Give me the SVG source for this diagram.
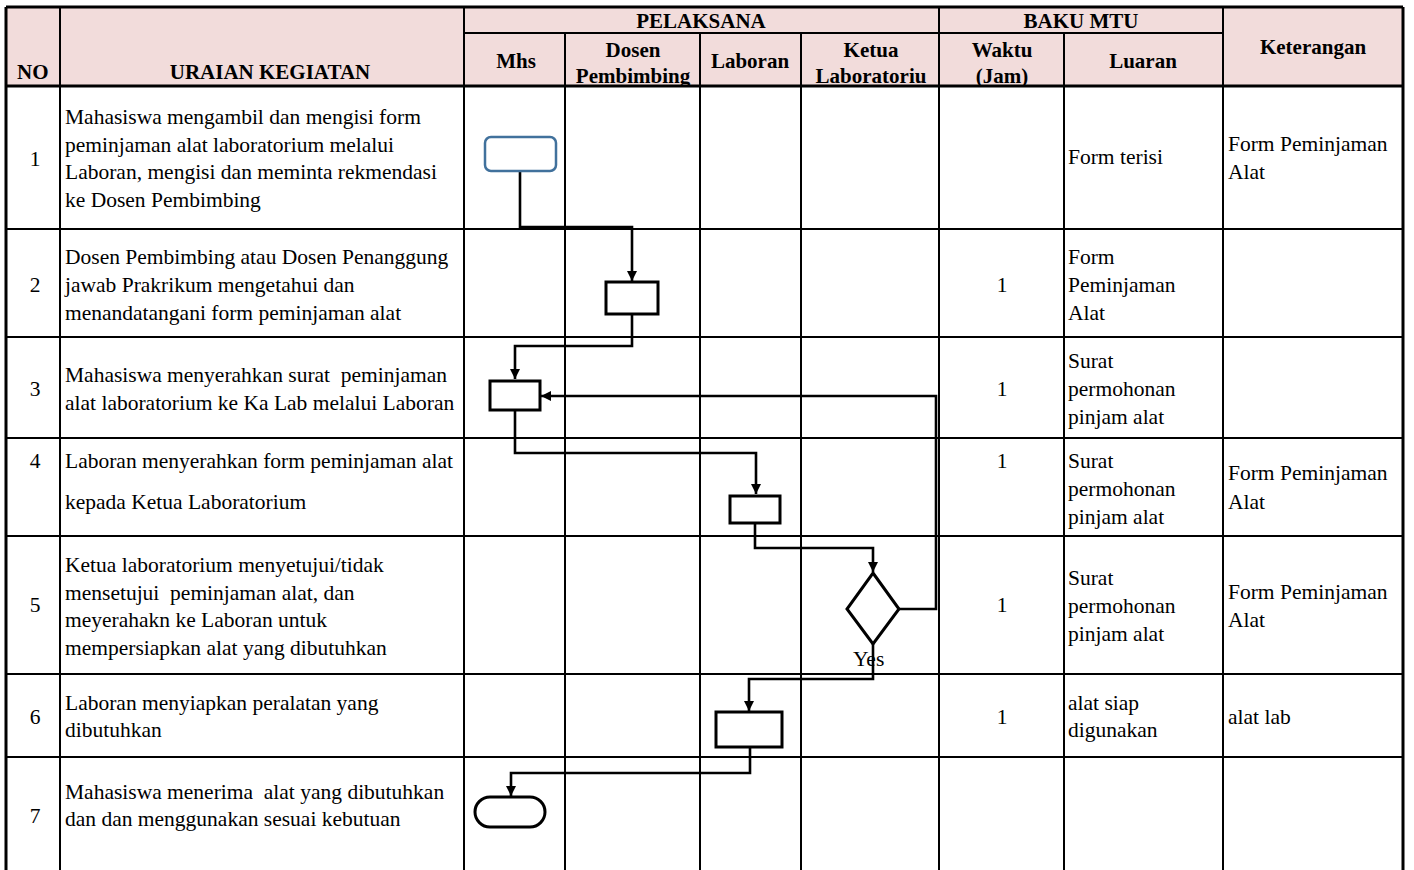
<svg xmlns="http://www.w3.org/2000/svg" width="1414" height="870" viewBox="0 0 1414 870">
<defs>
<style>
.t{font-family:"Liberation Serif","Times New Roman",serif;font-size:21.5px;fill:#000}
.h{font-family:"Liberation Serif","Times New Roman",serif;font-size:21px;font-weight:bold;fill:#000}
.c{text-anchor:middle}
.g{stroke:#000;stroke-width:2;fill:none}
.gb{stroke:#000;stroke-width:3;fill:none}
.n{fill:#fff;stroke:#000;stroke-width:3}
.e{fill:none;stroke:#000;stroke-width:2.6;stroke-linejoin:miter}
</style>
<marker id="ar" viewBox="0 0 10 10" refX="10" refY="5" markerWidth="10" markerHeight="10" markerUnits="userSpaceOnUse" orient="auto">
<path d="M0,0 L10,5 L0,10 z" fill="#000"/>
</marker>
</defs>
<rect width="1414" height="870" fill="#fff"/>
<!-- header -->
<g id="header">
<rect x="6" y="7" width="1397" height="79" fill="#F2DCDB"/>
<text class="h c" x="701" y="28">PELAKSANA</text>
<text class="h c" x="1081" y="28">BAKU MTU</text>
<text class="h" x="17" y="79">NO</text>
<text class="h c" x="270" y="79">URAIAN KEGIATAN</text>
<text class="h c" x="516" y="68">Mhs</text>
<text class="h c" x="633" y="57">Dosen</text>
<text class="h c" x="633" y="83">Pembimbing</text>
<text class="h c" x="750" y="68">Laboran</text>
<text class="h c" x="871" y="57">Ketua</text>
<text class="h c" x="871" y="83">Laboratoriu</text>
<text class="h c" x="1002" y="57">Waktu</text>
<text class="h c" x="1002" y="83">(Jam)</text>
<text class="h c" x="1143" y="68">Luaran</text>
<text class="h c" x="1313" y="54">Keterangan</text>
</g>
<rect x="6" y="86" width="1397" height="784" fill="#fff"/>
<!-- grid -->
<g id="grid">
<path class="gb" d="M6,7 H1403 M6,86 H1403"/>
<path class="g" d="M464,33 H1223 M6,229 H1403 M6,337 H1403 M6,438 H1403 M6,536 H1403 M6,674 H1403 M6,757 H1403"/>
<path class="gb" d="M6,7 V870 M1403,7 V870"/>
<path class="g" d="M60,7 V870 M464,7 V870 M939,7 V870 M1223,7 V870 M565,33 V870 M700,33 V870 M801,33 V870 M1064,33 V870"/>
</g>
<!-- rows text -->
<g id="row1">
<text class="t c" x="35" y="166">1</text>
<text class="t" x="65" y="124">Mahasiswa mengambil dan mengisi form</text>
<text class="t" x="65" y="152">peminjaman alat laboratorium melalui</text>
<text class="t" x="65" y="179">Laboran, mengisi dan meminta rekmendasi</text>
<text class="t" x="65" y="207">ke Dosen Pembimbing</text>
<text class="t" x="1068" y="164">Form terisi</text>
<text class="t" x="1228" y="151">Form Peminjaman</text>
<text class="t" x="1228" y="179">Alat</text>
</g>
<g id="row2">
<text class="t c" x="35" y="292">2</text>
<text class="t" x="65" y="264">Dosen Pembimbing atau Dosen Penanggung</text>
<text class="t" x="65" y="292">jawab Prakrikum mengetahui dan</text>
<text class="t" x="65" y="320">menandatangani form peminjaman alat</text>
<text class="t c" x="1002" y="292">1</text>
<text class="t" x="1068" y="264">Form</text>
<text class="t" x="1068" y="292">Peminjaman</text>
<text class="t" x="1068" y="320">Alat</text>
</g>
<g id="row3">
<text class="t c" x="35" y="396">3</text>
<text class="t" x="65" y="382" xml:space="preserve">Mahasiswa menyerahkan surat  peminjaman</text>
<text class="t" x="65" y="410">alat laboratorium ke Ka Lab melalui Laboran</text>
<text class="t c" x="1002" y="396">1</text>
<text class="t" x="1068" y="368">Surat</text>
<text class="t" x="1068" y="396">permohonan</text>
<text class="t" x="1068" y="424">pinjam alat</text>
</g>
<g id="row4">
<text class="t c" x="35" y="468">4</text>
<text class="t" x="65" y="468">Laboran menyerahkan form peminjaman alat</text>
<text class="t" x="65" y="509">kepada Ketua Laboratorium</text>
<text class="t c" x="1002" y="468">1</text>
<text class="t" x="1068" y="468">Surat</text>
<text class="t" x="1068" y="496">permohonan</text>
<text class="t" x="1068" y="524">pinjam alat</text>
<text class="t" x="1228" y="480">Form Peminjaman</text>
<text class="t" x="1228" y="509">Alat</text>
</g>
<g id="row5">
<text class="t c" x="35" y="612">5</text>
<text class="t" x="65" y="572">Ketua laboratorium menyetujui/tidak</text>
<text class="t" x="65" y="600" xml:space="preserve">mensetujui  peminjaman alat, dan</text>
<text class="t" x="65" y="627">meyerahakn ke Laboran untuk</text>
<text class="t" x="65" y="655">mempersiapkan alat yang dibutuhkan</text>
<text class="t c" x="1002" y="612">1</text>
<text class="t" x="1068" y="585">Surat</text>
<text class="t" x="1068" y="613">permohonan</text>
<text class="t" x="1068" y="641">pinjam alat</text>
<text class="t" x="1228" y="599">Form Peminjaman</text>
<text class="t" x="1228" y="627">Alat</text>
</g>
<g id="row6">
<text class="t c" x="35" y="724">6</text>
<text class="t" x="65" y="710">Laboran menyiapkan peralatan yang</text>
<text class="t" x="65" y="737">dibutuhkan</text>
<text class="t c" x="1002" y="724">1</text>
<text class="t" x="1068" y="710">alat siap</text>
<text class="t" x="1068" y="737">digunakan</text>
<text class="t" x="1228" y="724">alat lab</text>
</g>
<g id="row7">
<text class="t c" x="35" y="823">7</text>
<text class="t" x="65" y="799" xml:space="preserve">Mahasiswa menerima  alat yang dibutuhkan</text>
<text class="t" x="65" y="826">dan dan menggunakan sesuai kebutuan</text>
</g>
<!-- connectors -->
<g id="connectors">
<path class="e" d="M520,171 V227 H632 V281" marker-end="url(#ar)"/>
<path class="e" d="M632,314 V346 H515 V379" marker-end="url(#ar)"/>
<path class="e" d="M515,410 V453 H756 V494" marker-end="url(#ar)"/>
<path class="e" d="M755,523 V548 H873 V572" marker-end="url(#ar)"/>
<path class="e" d="M899,609 H936 V396 H541" marker-end="url(#ar)"/>
<path class="e" d="M873,644 V679 H749 V711" marker-end="url(#ar)"/>
<path class="e" d="M750,747 V773 H511 V796" marker-end="url(#ar)"/>
</g>
<!-- nodes -->
<g id="start"><rect x="485" y="137" width="71" height="34" rx="6" fill="#fff" stroke="#41719C" stroke-width="2.5"/></g>
<g id="step2"><rect class="n" x="606" y="282" width="52" height="32"/></g>
<g id="step3"><rect class="n" x="490" y="381" width="50" height="29"/></g>
<g id="step4"><rect class="n" x="730" y="496" width="50" height="27"/></g>
<g id="decision5"><path class="n" d="M873,573 L899,609 L873,644 L847,609 Z" stroke-width="2.6"/></g>
<g id="step6"><rect class="n" x="716" y="712" width="66" height="35"/></g>
<g id="end7"><rect class="n" x="475" y="797" width="70" height="30" rx="15" stroke-width="2.6"/></g>
<text class="t" x="853" y="666" fill="#222">Yes</text>
</svg>
